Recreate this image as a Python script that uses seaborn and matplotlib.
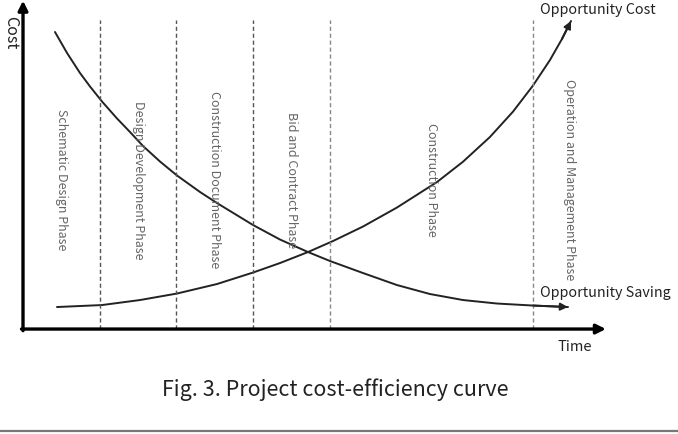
import matplotlib
matplotlib.use("Agg")
import matplotlib.pyplot as plt
import seaborn as sns
import pandas as pd

# curves (time, cost in arbitrary units)
time_rise = [0.443, 1.03, 1.525, 2.008, 2.529, 2.999, 3.351, 3.716, 4.042, 4.433,
             4.876, 5.398, 5.737, 6.089, 6.389, 6.649, 6.871, 7.027, 7.145]
cost_rise = [0.667, 0.727, 0.879, 1.076, 1.364, 1.712, 2.0, 2.333, 2.667, 3.106,
             3.682, 4.455, 5.07, 5.821, 6.588, 7.376, 8.152, 8.788, 9.333]

time_fall = [0.417, 0.574, 0.743, 0.874, 1.03, 1.226, 1.395, 1.565, 1.786, 2.008,
             2.308, 2.529, 2.999, 3.351, 3.716, 4.003, 4.433, 4.876, 5.306, 5.737,
             6.18, 6.649, 7.106]
cost_fall = [9.0, 8.364, 7.758, 7.348, 6.894, 6.379, 5.97, 5.545, 5.076, 4.652,
             4.152, 3.818, 3.152, 2.712, 2.333, 2.061, 1.697, 1.333, 1.061, 0.879,
             0.773, 0.712, 0.667]

# phase boundaries on the time axis, and the end of the axis
phase_edges = [0, 1, 2, 3, 4, 6.65, 7.6]
phases = ["Schematic Design Phase", "Design Development Phase",
          "Construction Document Phase", "Bid and Contract Phase",
          "Construction Phase", "Operation and Management Phase"]

sns.set_style("white")
plt.rcParams["font.family"] = ["Noto Sans CJK KR", "DejaVu Sans"]

fig = plt.figure(figsize=(6.78, 4.35), dpi=100)
ax = fig.add_axes([0, 0, 1, 1])
ax.set_xlim(-0.30, 8.54)
ax.set_ylim(-3.18, 10.0)
ax.axis("off")

rise = pd.DataFrame({"time": time_rise, "cost": cost_rise})
fall = pd.DataFrame({"time": time_fall, "cost": cost_fall})
sns.lineplot(data=rise, x="time", y="cost", color="#222222", lw=1.4, ax=ax, sort=False)
sns.lineplot(data=fall, x="time", y="cost", color="#222222", lw=1.4, ax=ax, sort=False)

# arrow heads on the curves
for tt, cc in [(time_rise, cost_rise), (time_fall, cost_fall)]:
    ax.annotate("", xy=(tt[-1], cc[-1]), xytext=(tt[-2], cc[-2]),
                arrowprops=dict(arrowstyle="-|>", color="#222222", lw=1.4,
                                mutation_scale=11, shrinkA=0, shrinkB=0))

# phase boundaries
for i, x in enumerate(phase_edges[1:-1]):
    ax.plot([x, x], [0, 9.35], ls=(0, (3, 2)), lw=1.0,
            color="#555555" if i < 3 else "#888888")

# phase labels
for i, name in enumerate(phases):
    xm = (phase_edges[i] + phase_edges[i + 1]) / 2
    ax.text(xm, 4.55, name, rotation=270, ha="center", va="center",
            fontsize=9, color="#666666")

# axes with arrows
ax.annotate("", xy=(phase_edges[-1], 0), xytext=(-0.02, 0),
            arrowprops=dict(arrowstyle="-|>", color="black", lw=2.4,
                            mutation_scale=14, shrinkA=0, shrinkB=0))
ax.annotate("", xy=(0, 9.95), xytext=(0, -0.05),
            arrowprops=dict(arrowstyle="-|>", color="black", lw=2.4,
                            mutation_scale=14, shrinkA=0, shrinkB=0))

ax.text(-0.16, 9.0, "Cost", rotation=270, ha="center", va="center",
        fontsize=11.5, color="#222222", weight="medium")
ax.text(7.2, -0.52, "Time", ha="center", va="center", fontsize=10.5,
        color="#222222", weight="medium")
ax.text(6.74, 9.7, "Opportunity Cost", ha="left", va="center", fontsize=10.3,
        color="#222222", weight="medium")
ax.text(6.74, 1.12, "Opportunity Saving", ha="left", va="center", fontsize=10.3,
        color="#222222", weight="medium")

fig.text(0.494, 1 - 390 / 435, "Fig. 3. Project cost-efficiency curve",
         ha="center", va="center", fontsize=15.5, color="#222222", weight="medium")
fig.add_artist(plt.Line2D([0, 1], [0.007, 0.007], color="#777777", lw=1.6))

fig.savefig("out.png", dpi=100)
